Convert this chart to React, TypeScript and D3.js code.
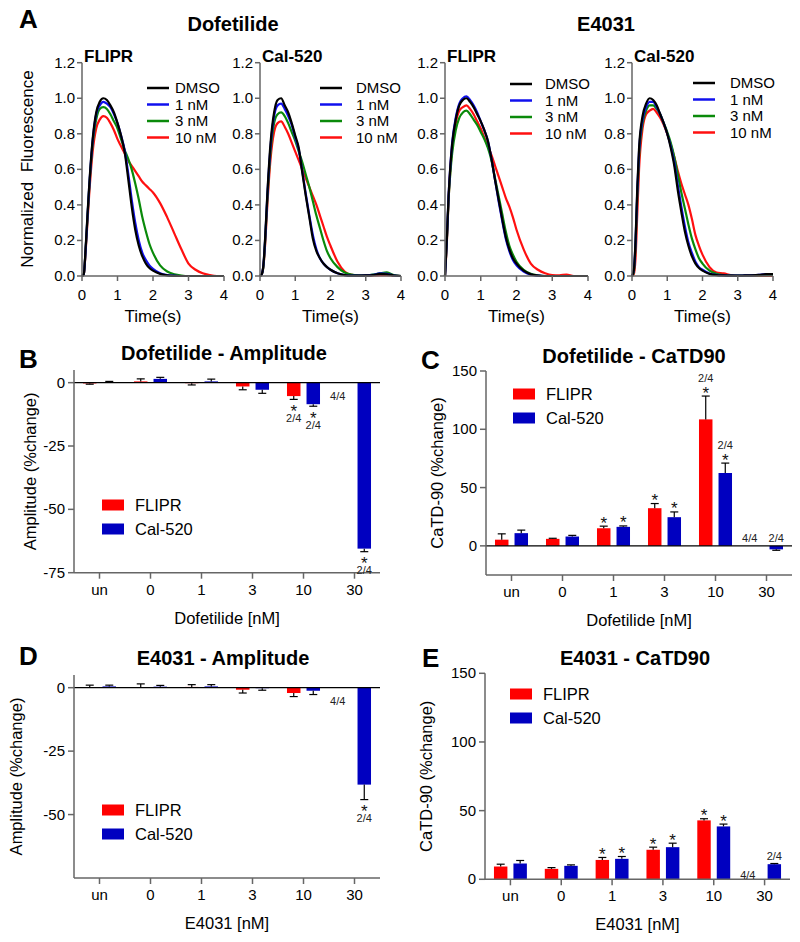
import React from 'react';
import * as d3 from 'd3';

const FONT = 'Arial, "Liberation Sans", Helvetica, sans-serif';

// ---------- Panel A: normalized fluorescence traces ----------
const TIME = [0, 0.05, 0.1, 0.15, 0.2, 0.3, 0.4, 0.5, 0.6, 0.7, 0.8, 0.9, 1.0, 1.1, 1.2, 1.3, 1.4, 1.5, 1.6, 1.7, 1.8, 1.9, 2.0, 2.2, 2.4, 2.6, 2.8, 3.0, 3.2, 3.4, 3.6, 3.8, 4.0];
const CONDITIONS = ['DMSO', '1 nM', '3 nM', '10 nM'];
const TIME_TICKS = [0, 1, 2, 3, 4];
const FLUO_TICKS = [0, 0.2, 0.4, 0.6, 0.8, 1.0, 1.2];

// Dofetilide, FLIPR
const DOF_FLIPR_DMSO = [0, 0.01, 0.15, 0.33, 0.5, 0.77, 0.92, 0.98, 1.0, 0.99, 0.96, 0.92, 0.86, 0.79, 0.7, 0.55, 0.39, 0.26, 0.17, 0.11, 0.07, 0.045, 0.03, 0.012, 0.004, 0.001, 0, 0, 0, 0, 0, 0, 0];
const DOF_FLIPR_1 = [0, 0.01, 0.14, 0.32, 0.49, 0.76, 0.91, 0.96, 0.98, 0.97, 0.95, 0.91, 0.86, 0.79, 0.71, 0.58, 0.43, 0.3, 0.2, 0.13, 0.09, 0.06, 0.04, 0.015, 0.005, 0.002, 0, 0, 0, 0, 0, 0, 0];
const DOF_FLIPR_3 = [0, 0.01, 0.14, 0.31, 0.48, 0.74, 0.88, 0.94, 0.95, 0.94, 0.91, 0.87, 0.83, 0.77, 0.71, 0.66, 0.6, 0.52, 0.43, 0.33, 0.25, 0.18, 0.13, 0.06, 0.025, 0.01, 0.003, 0, 0, 0, 0, 0, 0];
const DOF_FLIPR_10 = [0, 0.01, 0.13, 0.29, 0.45, 0.7, 0.83, 0.88, 0.9, 0.89, 0.86, 0.82, 0.77, 0.73, 0.69, 0.65, 0.62, 0.59, 0.56, 0.53, 0.51, 0.49, 0.47, 0.41, 0.33, 0.24, 0.15, 0.07, 0.035, 0.015, 0.005, 0, 0];
// Dofetilide, Cal-520
const DOF_CAL_DMSO = [0, 0.01, 0.07, 0.23, 0.43, 0.75, 0.92, 0.99, 1.0, 0.96, 0.92, 0.86, 0.79, 0.72, 0.58, 0.45, 0.33, 0.21, 0.14, 0.1, 0.07, 0.05, 0.035, 0.015, 0.005, 0.002, 0.002, 0.003, 0.005, 0.012, 0.01, 0.003, 0];
const DOF_CAL_1 = [0, 0.01, 0.07, 0.22, 0.42, 0.73, 0.9, 0.96, 0.97, 0.94, 0.9, 0.85, 0.78, 0.71, 0.59, 0.46, 0.34, 0.23, 0.15, 0.1, 0.07, 0.05, 0.035, 0.015, 0.005, 0.002, 0.002, 0.003, 0.006, 0.015, 0.012, 0.003, 0];
const DOF_CAL_3 = [0, 0.01, 0.06, 0.21, 0.4, 0.7, 0.86, 0.91, 0.92, 0.9, 0.86, 0.81, 0.76, 0.7, 0.64, 0.57, 0.5, 0.42, 0.34, 0.27, 0.2, 0.14, 0.1, 0.05, 0.02, 0.008, 0.004, 0.003, 0.008, 0.015, 0.02, 0.005, 0];
const DOF_CAL_10 = [0, 0.01, 0.06, 0.19, 0.37, 0.66, 0.81, 0.86, 0.87, 0.84, 0.8, 0.75, 0.7, 0.65, 0.6, 0.55, 0.5, 0.45, 0.4, 0.34, 0.28, 0.22, 0.17, 0.08, 0.025, 0.006, 0.002, 0.002, 0.003, 0.005, 0.005, 0.002, 0];
// E4031, FLIPR
const E4_FLIPR_DMSO = [0, 0.2, 0.45, 0.62, 0.74, 0.88, 0.96, 0.99, 1.0, 0.98, 0.95, 0.91, 0.87, 0.82, 0.76, 0.66, 0.54, 0.43, 0.32, 0.22, 0.15, 0.1, 0.07, 0.03, 0.01, 0.003, 0, 0, 0, 0, 0, 0, 0];
const E4_FLIPR_1 = [0, 0.2, 0.45, 0.62, 0.75, 0.89, 0.97, 1.0, 1.01, 0.99, 0.96, 0.92, 0.87, 0.82, 0.76, 0.66, 0.54, 0.42, 0.31, 0.21, 0.14, 0.09, 0.06, 0.025, 0.008, 0.002, 0, 0, 0, 0, 0, 0, 0];
const E4_FLIPR_3 = [0, 0.19, 0.43, 0.58, 0.69, 0.82, 0.89, 0.92, 0.93, 0.91, 0.88, 0.85, 0.81, 0.77, 0.72, 0.65, 0.55, 0.45, 0.35, 0.25, 0.17, 0.12, 0.08, 0.035, 0.012, 0.004, 0, 0, 0, 0, 0, 0, 0];
const E4_FLIPR_10 = [0, 0.18, 0.43, 0.6, 0.72, 0.86, 0.93, 0.95, 0.96, 0.94, 0.91, 0.87, 0.83, 0.78, 0.73, 0.68, 0.62, 0.56, 0.5, 0.44, 0.39, 0.33, 0.26, 0.15, 0.07, 0.035, 0.015, 0.005, 0.004, 0.008, 0, 0, 0];
// E4031, Cal-520
const E4_CAL_DMSO = [0, 0.03, 0.2, 0.5, 0.72, 0.9, 0.97, 1.0, 0.99, 0.96, 0.91, 0.86, 0.8, 0.72, 0.62, 0.48, 0.36, 0.25, 0.17, 0.11, 0.07, 0.045, 0.03, 0.012, 0.005, 0.003, 0.002, 0.002, 0.003, 0.004, 0.006, 0.01, 0.01];
const E4_CAL_1 = [0, 0.03, 0.19, 0.48, 0.7, 0.88, 0.95, 0.98, 0.98, 0.95, 0.91, 0.86, 0.8, 0.73, 0.64, 0.51, 0.39, 0.28, 0.19, 0.13, 0.08, 0.05, 0.035, 0.014, 0.006, 0.003, 0.002, 0.002, 0.003, 0.004, 0.006, 0.01, 0.01];
const E4_CAL_3 = [0, 0.02, 0.17, 0.45, 0.67, 0.86, 0.93, 0.96, 0.96, 0.94, 0.91, 0.86, 0.81, 0.75, 0.67, 0.57, 0.47, 0.38, 0.29, 0.21, 0.15, 0.1, 0.07, 0.03, 0.012, 0.005, 0.003, 0.002, 0.002, 0.003, 0.004, 0.005, 0.006];
const E4_CAL_10 = [0, 0.01, 0.1, 0.35, 0.6, 0.83, 0.91, 0.93, 0.94, 0.92, 0.89, 0.85, 0.8, 0.74, 0.67, 0.59, 0.52, 0.46, 0.4, 0.32, 0.23, 0.17, 0.12, 0.05, 0.02, 0.015, 0.005, 0, 0, 0, 0, 0, 0];

// ---------- Bar panels ----------
const CATS = ['un', '0', '1', '3', '10', '30'];
const SERIES = ['FLIPR', 'Cal-520'];

// B: Dofetilide - Amplitude
const B_FLIPR = [-0.3, 0.5, -0.2, -1.5, -5.3, null];
const B_FLIPR_ERR = [0.3, 1.0, 0.7, 1.3, 1.3, null];
const B_CAL = [0.2, 1.5, 0.5, -2.8, -8.5, -65.5];
const B_CAL_ERR = [0.3, 0.6, 0.9, 1.4, 0.8, 1.2];
const B_TICKS = [0, -25, -50, -75];
const B_STARS = [['10', 'FLIPR'], ['10', 'Cal-520'], ['30', 'Cal-520']];
const B_LABELS = [['10', 'FLIPR', '2/4'], ['10', 'Cal-520', '2/4'], ['30', 'Cal-520', '2/4'], ['30', 'FLIPR', '4/4']];

// C: Dofetilide - CaTD90
const C_FLIPR = [5.3, 6.0, 15.1, 32.3, 108.5, null];
const C_FLIPR_ERR = [5.0, 0.5, 1.8, 4.0, 20.0, null];
const C_CAL = [10.9, 8.0, 16.3, 24.6, 62.5, -3.0];
const C_CAL_ERR = [2.6, 1.0, 0.8, 4.5, 8.5, 0.8];
const C_TICKS = [0, 50, 100, 150];
const C_STARS = [['1', 'FLIPR'], ['1', 'Cal-520'], ['3', 'FLIPR'], ['3', 'Cal-520'], ['10', 'FLIPR'], ['10', 'Cal-520']];
const C_LABELS = [['10', 'FLIPR', '2/4'], ['10', 'Cal-520', '2/4'], ['30', 'Cal-520', '2/4'], ['30', 'FLIPR', '4/4']];

// D: E4031 - Amplitude
const D_FLIPR = [0.0, 0.0, 0.3, -0.8, -2.1, null];
const D_FLIPR_ERR = [1.0, 1.5, 0.9, 1.3, 1.4, null];
const D_CAL = [0.5, 0.4, 0.5, -0.2, -1.2, -38.2];
const D_CAL_ERR = [0.5, 0.5, 0.7, 0.8, 1.5, 5.9];
const D_TICKS = [0, -25, -50];
const D_STARS = [['30', 'Cal-520']];
const D_LABELS = [['30', 'Cal-520', '2/4'], ['30', 'FLIPR', '4/4']];

// E: E4031 - CaTD90
const E_FLIPR = [9.3, 7.6, 14.1, 21.5, 42.9, null];
const E_FLIPR_ERR = [1.7, 0.9, 1.8, 1.9, 1.2, null];
const E_CAL = [11.5, 9.8, 14.9, 23.4, 38.5, 11.0];
const E_CAL_ERR = [2.2, 0.7, 1.7, 2.9, 1.7, 0.5];
const E_TICKS = [0, 50, 100, 150];
const E_STARS = [['1', 'FLIPR'], ['1', 'Cal-520'], ['3', 'FLIPR'], ['3', 'Cal-520'], ['10', 'FLIPR'], ['10', 'Cal-520']];
const E_LABELS = [['30', 'Cal-520', '2/4'], ['30', 'FLIPR', '4/4']];

const LINE_COLORS = ['#000000', '#1010ee', '#0a8a0a', '#ff1010'];
const BAR_COLORS = { FLIPR: '#ff0000', 'Cal-520': '#0000c0' };
const AXIS = '#666';

type TraceProps = {
  x0: number; x1: number; traces: number[][]; title: string;
  legX: number; legTextX: number; legY: number;
};

function TracePanel({ x0, x1, traces, title, legX, legTextX, legY }: TraceProps) {
  const yb = 276, yt = 62.7;
  const xs = d3.scaleLinear().domain([0, 4]).range([x0, x1]);
  const ys = d3.scaleLinear().domain([0, 1.2]).range([yb, yt]);
  const line = d3.line<number>().x((_, i) => xs(TIME[i])).y((d) => ys(d)).curve(d3.curveMonotoneX);
  const order = [3, 2, 1, 0];
  return (
    <g>
      <text x={x0 + 2} y={62} fontSize={17} fontWeight="bold">{title}</text>
      {order.map((k) => (
        <path key={k} d={line(traces[k]) || ''} fill="none" stroke={LINE_COLORS[k]} strokeWidth={2.2} strokeLinejoin="round" />
      ))}
      <line x1={x0} x2={x0} y1={yt} y2={yb} stroke={AXIS} strokeWidth={1.5} />
      <line x1={x0} x2={x1} y1={yb} y2={yb} stroke={AXIS} strokeWidth={1.5} />
      {FLUO_TICKS.map((t) => (
        <g key={t}>
          <line x1={x0 - 5} x2={x0} y1={ys(t)} y2={ys(t)} stroke={AXIS} strokeWidth={1.5} />
          <text x={x0 - 7} y={ys(t) + 5} fontSize={15} textAnchor="end">{t.toFixed(1)}</text>
        </g>
      ))}
      {TIME_TICKS.map((t) => (
        <g key={t}>
          <line x1={xs(t)} x2={xs(t)} y1={yb} y2={yb + 5} stroke={AXIS} strokeWidth={1.5} />
          <text x={xs(t)} y={300} fontSize={15} textAnchor="middle">{t}</text>
        </g>
      ))}
      <text x={(x0 + x1) / 2} y={322} fontSize={17} textAnchor="middle">Time(s)</text>
      {CONDITIONS.map((c, i) => (
        <g key={c}>
          <line x1={legX} x2={legX + 22} y1={legY + i * 16.5} y2={legY + i * 16.5} stroke={LINE_COLORS[i]} strokeWidth={2.5} />
          <text x={legTextX} y={legY + i * 16.5 + 5} fontSize={15}>{c}</text>
        </g>
      ))}
    </g>
  );
}

type BarCfg = {
  letter: string; letterX: number; letterY: number;
  title: string; titleX: number; titleY: number;
  left: number; right: number; top: number; bottom: number; domain: [number, number]; ticks: number[];
  flipr: (number | null)[]; fliprErr: (number | null)[]; cal: (number | null)[]; calErr: (number | null)[];
  stars: string[][]; labels: string[][]; dir: number; missOff: number;
  yLabel: string; yLabelX: number; xLabel: string; legX: number; legY: number; zeroLine: boolean;
};

const STAR_SIZE = 17;
const FRAC_SIZE = 11;

function BarPanel({ c }: { c: BarCfg }) {
  const y = d3.scaleLinear().domain(c.domain).range([c.bottom, c.top]);
  const x0 = d3.scaleBand().domain(CATS).range([c.left, c.right]).padding(0);
  const x1 = d3.scaleBand().domain(SERIES).range([0, x0.bandwidth()]).paddingInner(0.31).paddingOuter(0.46);
  const bw = x1.bandwidth();
  const means: Record<string, (number | null)[]> = { FLIPR: c.flipr, 'Cal-520': c.cal };
  const errs: Record<string, (number | null)[]> = { FLIPR: c.fliprErr, 'Cal-520': c.calErr };
  const cx = (cat: string, s: string) => (x0(cat) as number) + (x1(s) as number) + bw / 2;
  const anchor = (cat: string, s: string) => {
    const i = CATS.indexOf(cat);
    const v = means[s][i];
    const e = errs[s][i] || 0;
    if (v == null) return 0;
    const end = v >= 0 ? v + e : v - e;
    return c.dir > 0 ? Math.max(0, end) : Math.min(0, end);
  };
  const findLabel = (cat: string, s: string) => c.labels.find((d) => d[0] === cat && d[1] === s);
  const hasStar = (cat: string, s: string) => c.stars.some((d) => d[0] === cat && d[1] === s);
  const midY = (c.top + c.bottom) / 2;
  return (
    <g>
      <text x={c.letterX} y={c.letterY} fontSize={26} fontWeight="bold">{c.letter}</text>
      <text x={c.titleX} y={c.titleY} fontSize={20} fontWeight="bold" textAnchor="middle">{c.title}</text>
      {SERIES.map((s) =>
        CATS.map((cat, i) => {
          const v = means[s][i];
          if (v == null) return null;
          const e = errs[s][i] || 0;
          const end = v >= 0 ? v + e : v - e;
          const x = cx(cat, s);
          return (
            <g key={s + cat}>
              <rect x={x - bw / 2} width={bw} y={Math.min(y(v), y(0))} height={Math.abs(y(v) - y(0))} fill={BAR_COLORS[s as 'FLIPR']} />
              <line x1={x} x2={x} y1={y(v)} y2={y(end)} stroke="#000" strokeWidth={1.2} />
              <line x1={x - 4} x2={x + 4} y1={y(end)} y2={y(end)} stroke="#000" strokeWidth={1.2} />
            </g>
          );
        })
      )}
      {c.zeroLine && <line x1={c.left} x2={c.right} y1={y(0)} y2={y(0)} stroke="#000" strokeWidth={1.3} />}
      <line x1={c.left} x2={c.left} y1={c.top} y2={c.bottom} stroke={AXIS} strokeWidth={1.5} />
      <line x1={c.left} x2={c.right} y1={c.bottom} y2={c.bottom} stroke={AXIS} strokeWidth={1.5} />
      {c.ticks.map((t) => (
        <g key={t}>
          <line x1={c.left - 6} x2={c.left} y1={y(t)} y2={y(t)} stroke={AXIS} strokeWidth={1.5} />
          <text x={c.left - 9} y={y(t) + 5} fontSize={15} textAnchor="end">{t}</text>
        </g>
      ))}
      {CATS.map((cat) => (
        <g key={cat}>
          <line x1={(x0(cat) as number) + x0.bandwidth() / 2} x2={(x0(cat) as number) + x0.bandwidth() / 2} y1={c.bottom} y2={c.bottom + 6} stroke={AXIS} strokeWidth={1.5} />
          <text x={(x0(cat) as number) + x0.bandwidth() / 2} y={c.bottom + 22} fontSize={15} textAnchor="middle">{cat}</text>
        </g>
      ))}
      {c.stars.map(([cat, s]) => {
        const base = y(anchor(cat, s));
        const starC = base - c.dir * 7.5;
        const lab = findLabel(cat, s);
        const x = cx(cat, s);
        const fracC = base - c.dir * 18.5;
        return (
          <text key={'s' + cat + s} textAnchor="middle" fill="#111">
            <tspan x={x} y={starC + 10} fontSize={STAR_SIZE}>*</tspan>
            {lab && <tspan x={x} y={fracC + 4} fontSize={FRAC_SIZE} fill="#222">{lab[2]}</tspan>}
          </text>
        );
      })}
      {c.labels.filter(([cat, s]) => !hasStar(cat, s)).map(([cat, s, txt]) => {
        const i = CATS.indexOf(cat);
        const missing = means[s][i] == null;
        const off = missing ? c.missOff : c.dir * 8;
        const py = y(anchor(cat, s)) - off;
        return <text key={'l' + cat + s} x={cx(cat, s) - (missing ? 7 : 0)} y={py + 4} fontSize={FRAC_SIZE} textAnchor="middle" fill="#222">{txt}</text>;
      })}
      <text transform={`translate(${c.yLabelX},${midY}) rotate(-90)`} fontSize={16.5} textAnchor="middle" dominantBaseline="central">{c.yLabel}</text>
      <text x={(c.left + c.right) / 2} y={c.bottom + 51} fontSize={16.5} textAnchor="middle">{c.xLabel}</text>
      {SERIES.map((s, i) => (
        <g key={s}>
          <rect x={c.legX} y={c.legY + i * 24 - 5.5} width={22} height={11} fill={BAR_COLORS[s as 'FLIPR']} />
          <text x={c.legX + 33} y={c.legY + i * 24 + 6} fontSize={16.5}>{s}</text>
        </g>
      ))}
    </g>
  );
}

const PANELS: BarCfg[] = [
  {
    letter: 'B', letterX: 19, letterY: 368, title: 'Dofetilide - Amplitude', titleX: 224, titleY: 360,
    left: 74, right: 380, top: 370, bottom: 572.7, domain: [-75, 5], ticks: B_TICKS,
    flipr: B_FLIPR, fliprErr: B_FLIPR_ERR, cal: B_CAL, calErr: B_CAL_ERR, stars: B_STARS, labels: B_LABELS,
    dir: -1, missOff: -13, yLabel: 'Amplitude (%change)', yLabelX: 30, xLabel: 'Dofetilide [nM]', legX: 102, legY: 505, zeroLine: true,
  },
  {
    letter: 'C', letterX: 421, letterY: 369, title: 'Dofetilide - CaTD90', titleX: 634, titleY: 363,
    left: 486, right: 792, top: 371, bottom: 575, domain: [-25, 150], ticks: C_TICKS,
    flipr: C_FLIPR, fliprErr: C_FLIPR_ERR, cal: C_CAL, calErr: C_CAL_ERR, stars: C_STARS, labels: C_LABELS,
    dir: 1, missOff: 8, yLabel: 'CaTD-90 (%change)', yLabelX: 437, xLabel: 'Dofetilide [nM]', legX: 513, legY: 394, zeroLine: true,
  },
  {
    letter: 'D', letterX: 19, letterY: 665, title: 'E4031 - Amplitude', titleX: 223, titleY: 665,
    left: 74, right: 380, top: 675, bottom: 878, domain: [-75, 5], ticks: D_TICKS,
    flipr: D_FLIPR, fliprErr: D_FLIPR_ERR, cal: D_CAL, calErr: D_CAL_ERR, stars: D_STARS, labels: D_LABELS,
    dir: -1, missOff: -13, yLabel: 'Amplitude (%change)', yLabelX: 16, xLabel: 'E4031 [nM]', legX: 102, legY: 810, zeroLine: true,
  },
  {
    letter: 'E', letterX: 422, letterY: 667, title: 'E4031 - CaTD90', titleX: 635, titleY: 665,
    left: 485, right: 790, top: 673.3, bottom: 879.3, domain: [0, 150], ticks: E_TICKS,
    flipr: E_FLIPR, fliprErr: E_FLIPR_ERR, cal: E_CAL, calErr: E_CAL_ERR, stars: E_STARS, labels: E_LABELS,
    dir: 1, missOff: 4, yLabel: 'CaTD-90 (%change)', yLabelX: 426, xLabel: 'E4031 [nM]', legX: 510, legY: 694, zeroLine: false,
  },
];

export default function App() {
  return (
    <svg width={800} height={942} style={{ position: 'absolute', left: 0, top: 0, background: '#fff' }} fontFamily={FONT}>
      <rect width={800} height={942} fill="#fff" />
      <text x={19} y={28} fontSize={26} fontWeight="bold">A</text>
      <text x={233} y={31} fontSize={20} fontWeight="bold" textAnchor="middle">Dofetilide</text>
      <text x={606} y={31} fontSize={20} fontWeight="bold" textAnchor="middle">E4031</text>
      <text transform="translate(27,169) rotate(-90)" fontSize={17} textAnchor="middle" dominantBaseline="central" style={{ whiteSpace: 'pre' }}>{'Normalized  Fluorescence'}</text>
      <TracePanel x0={82} x1={224} title="FLIPR" traces={[DOF_FLIPR_DMSO, DOF_FLIPR_1, DOF_FLIPR_3, DOF_FLIPR_10]} legX={147} legTextX={175} legY={88} />
      <TracePanel x0={260} x1={401} title="Cal-520" traces={[DOF_CAL_DMSO, DOF_CAL_1, DOF_CAL_3, DOF_CAL_10]} legX={320} legTextX={356} legY={88} />
      <TracePanel x0={445} x1={588} title="FLIPR" traces={[E4_FLIPR_DMSO, E4_FLIPR_1, E4_FLIPR_3, E4_FLIPR_10]} legX={510} legTextX={545} legY={84} />
      <TracePanel x0={632} x1={773} title="Cal-520" traces={[E4_CAL_DMSO, E4_CAL_1, E4_CAL_3, E4_CAL_10]} legX={693} legTextX={730} legY={83} />
      {PANELS.map((p) => <BarPanel key={p.letter} c={p} />)}
    </svg>
  );
}
